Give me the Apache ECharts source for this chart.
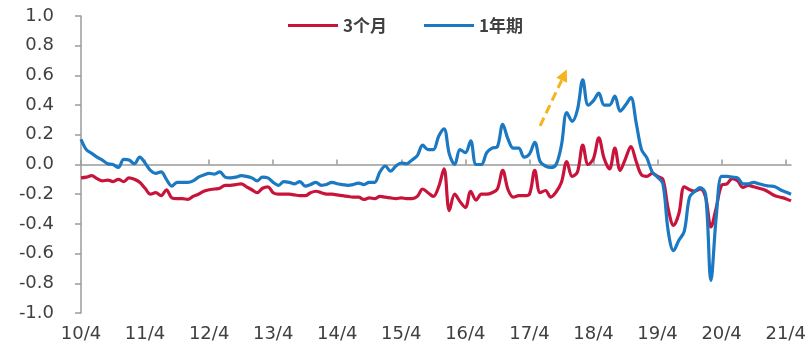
<!DOCTYPE html>
<html>
<head>
<meta charset="utf-8">
<script src="https://cdn.jsdelivr.net/npm/echarts@6/dist/echarts.min.js"></script>
<style>
  html, body { margin: 0; padding: 0; background: #fff; }
  #chart { width: 811px; height: 346px; }
</style>
</head>
<body>
<div id="chart"></div>
<script>
// Monthly spread series, April 2010 through May 2021
const startYear = 2010;
const startMonth = 4;
const pointCount = 134;

// Tick labels on the time axis (every April)
const yearTicks = ['10/4', '11/4', '12/4', '13/4', '14/4', '15/4', '16/4', '17/4', '18/4', '19/4', '20/4', '21/4'];

// 3-month series
const spread3m = [
  -0.09, -0.085, -0.075, -0.095, -0.11, -0.105, -0.115, -0.10, -0.115, -0.09, -0.10, -0.12,
  -0.16, -0.20, -0.19, -0.21, -0.17, -0.225, -0.23, -0.23, -0.235, -0.215, -0.20, -0.18,
  -0.17, -0.165, -0.16, -0.14, -0.14, -0.135, -0.13, -0.15, -0.17, -0.19, -0.16, -0.15,
  -0.19, -0.20, -0.20, -0.20, -0.205, -0.21, -0.21, -0.19, -0.18, -0.19, -0.20, -0.20,
  -0.205, -0.21, -0.215, -0.22, -0.22, -0.235, -0.225, -0.23, -0.215, -0.22, -0.225, -0.23,
  -0.225, -0.23, -0.23, -0.215, -0.165, -0.19, -0.215, -0.15, -0.03, -0.31, -0.20, -0.25,
  -0.29, -0.18, -0.24, -0.20, -0.20, -0.19, -0.165, -0.04, -0.17, -0.22, -0.21, -0.21,
  -0.20, -0.04, -0.19, -0.175, -0.22, -0.185, -0.12, 0.02, -0.08, -0.05, 0.13, 0.0,
  0.04, 0.18, 0.04, -0.03, 0.11, -0.04, 0.04, 0.12, 0.02, -0.07, -0.08, -0.06,
  -0.08, -0.10, -0.30, -0.41, -0.33, -0.15, -0.17, -0.18, -0.165, -0.22, -0.42, -0.29,
  -0.14, -0.13, -0.095, -0.11, -0.155, -0.14, -0.15, -0.16, -0.17, -0.19, -0.21, -0.22,
  -0.23, -0.245
];

// 1-year series
const spread1y = [
  0.17, 0.10, 0.075, 0.05, 0.03, 0.005, 0.0, -0.02, 0.035, 0.03, 0.005, 0.05,
  0.01, -0.04, -0.06, -0.05, -0.10, -0.145, -0.12, -0.12, -0.12, -0.11, -0.085, -0.07,
  -0.06, -0.065, -0.05, -0.085, -0.09, -0.085, -0.075, -0.08, -0.09, -0.11, -0.085, -0.09,
  -0.12, -0.14, -0.115, -0.12, -0.13, -0.115, -0.145, -0.135, -0.12, -0.14, -0.135, -0.12,
  -0.13, -0.135, -0.14, -0.135, -0.125, -0.135, -0.12, -0.12, -0.05, -0.01, -0.045, -0.01,
  0.01, 0.005, 0.03, 0.06, 0.13, 0.10, 0.10, 0.19, 0.24, 0.07, 0.0, 0.10,
  0.08, 0.16, 0.0, 0.0, 0.08, 0.11, 0.12, 0.27, 0.17, 0.11, 0.11, 0.05,
  0.07, 0.15, 0.02, -0.01, -0.02, 0.0, 0.13, 0.35, 0.29, 0.37, 0.57, 0.40,
  0.43, 0.48, 0.40, 0.40, 0.46, 0.36, 0.40, 0.45, 0.28, 0.10, 0.045, -0.05,
  -0.085, -0.13, -0.45, -0.58, -0.51, -0.45, -0.22, -0.18, -0.155, -0.20, -0.78, -0.35,
  -0.08, -0.08, -0.085, -0.09, -0.13, -0.13, -0.12, -0.13, -0.14, -0.145, -0.15, -0.17,
  -0.185, -0.20
];

const seriesNames = ['3个月', '1年期'];
const seriesColors = ['#C8143A', '#1B78C2'];

// Trend arrow, in axis space: [month index, value]
const arrowTail = [86.4, 0.26];
const arrowHead = [90.5, 0.64];

// Month categories "YY/M"
const months = [];
for (let i = 0; i < pointCount; i++) {
  const m0 = startMonth - 1 + i;
  const y = startYear + Math.floor(m0 / 12);
  const m = (m0 % 12) + 1;
  months.push(String(y).slice(2) + '/' + m);
}

const axisGrey = '#9b9b9b';
const textGrey = '#404040';
const labelFont = 'DejaVu Sans';

const chart = echarts.init(document.getElementById('chart'), null, { renderer: 'canvas' });

chart.setOption({
  animation: false,
  backgroundColor: '#ffffff',
  grid: { left: 81, right: 20, top: 16, bottom: 33 },
  legend: {
    data: seriesNames,
    left: 283,
    top: 12,
    icon: 'rect',
    itemWidth: 50,
    itemHeight: 3,
    itemGap: 37,
    textStyle: { fontFamily: 'Noto Sans CJK SC', fontSize: 17, color: textGrey, fontWeight: 'bold' }
  },
  xAxis: [
    {
      type: 'category',
      data: months,
      boundaryGap: false,
      position: 'bottom',
      axisLine: { show: false, onZero: false },
      axisTick: { show: false },
      axisLabel: {
        interval: 11,
        margin: 12,
        fontFamily: labelFont,
        fontSize: 18,
        color: textGrey,
        formatter: (v) => (yearTicks.indexOf(v) >= 0 ? v : '')
      },
      splitLine: { show: false }
    },
    {
      type: 'category',
      data: months,
      boundaryGap: false,
      axisLine: { show: true, onZero: true, lineStyle: { color: axisGrey, width: 1.5 } },
      axisTick: { show: true, interval: 11, length: 5, lineStyle: { color: axisGrey, width: 1.5 } },
      axisLabel: { show: false },
      splitLine: { show: false }
    }
  ],
  yAxis: {
    type: 'value',
    min: -1,
    max: 1,
    interval: 0.2,
    axisLine: { show: true, lineStyle: { color: axisGrey, width: 1.5 } },
    axisTick: { show: true, length: 6, lineStyle: { color: axisGrey, width: 1.5 } },
    axisLabel: {
      margin: 27,
      fontFamily: labelFont,
      fontSize: 18,
      color: textGrey,
      formatter: (v) => v.toFixed(1)
    },
    splitLine: { show: false }
  },
  series: [
    {
      name: seriesNames[0],
      type: 'line',
      xAxisIndex: 0,
      data: spread3m,
      smooth: 0.35,
      showSymbol: false,
      lineStyle: { color: seriesColors[0], width: 3.2 },
      itemStyle: { color: seriesColors[0] }
    },
    {
      name: seriesNames[1],
      type: 'line',
      xAxisIndex: 0,
      data: spread1y,
      smooth: 0.35,
      showSymbol: false,
      lineStyle: { color: seriesColors[1], width: 3.2 },
      itemStyle: { color: seriesColors[1] }
    }
  ]
});

// Dashed trend arrow
const p0 = chart.convertToPixel({ xAxisIndex: 0, yAxisIndex: 0 }, arrowTail);
const p1 = chart.convertToPixel({ xAxisIndex: 0, yAxisIndex: 0 }, arrowHead);
const dx = p1[0] - p0[0], dy = p1[1] - p0[1];
const len = Math.sqrt(dx * dx + dy * dy);
const ux = dx / len, uy = dy / len;
const headLen = 12, headHalf = 6;
const bx = p1[0] - ux * headLen, by = p1[1] - uy * headLen;
const arrowColor = '#F5B41E';
chart.setOption({
  graphic: [
    {
      type: 'line',
      shape: { x1: p0[0], y1: p0[1], x2: bx, y2: by },
      style: { stroke: arrowColor, lineWidth: 3, lineDash: [9, 5] },
      z: 10
    },
    {
      type: 'polygon',
      shape: {
        points: [
          [p1[0], p1[1]],
          [bx - uy * headHalf, by + ux * headHalf],
          [bx + uy * headHalf, by - ux * headHalf]
        ]
      },
      style: { fill: arrowColor },
      z: 10
    }
  ]
});
</script>
</body>
</html>
